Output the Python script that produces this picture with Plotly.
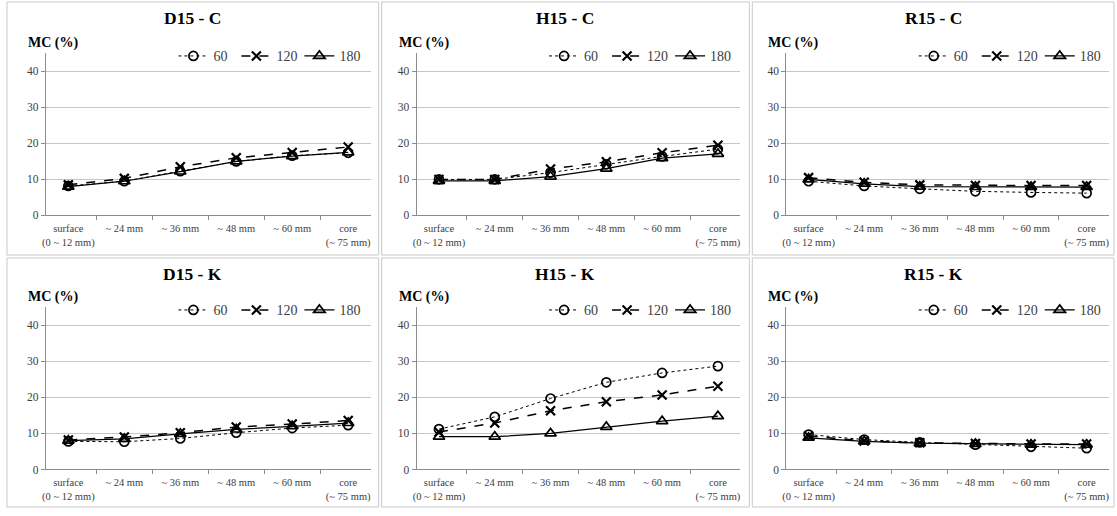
import plotly.graph_objects as go

# ---------------- data ----------------
categories = ["surface<br>(0 ~ 12 mm)", "~ 24 mm", "~ 36 mm", "~ 48 mm", "~ 60 mm", "core<br>(~ 75 mm)"]
panel_titles = ["D15 - C", "H15 - C", "R15 - C", "D15 - K", "H15 - K", "R15 - K"]
series_names = ["60", "120", "180"]

d15c_60 = [8.2, 9.5, 12.3, 15.0, 16.6, 17.4]
d15c_120 = [8.5, 10.3, 13.5, 16.0, 17.5, 19.0]
d15c_180 = [8.0, 9.5, 12.2, 15.0, 16.5, 17.5]

h15c_60 = [10.0, 10.0, 11.9, 14.2, 16.4, 18.4]
h15c_120 = [10.0, 10.0, 12.9, 14.9, 17.4, 19.5]
h15c_180 = [9.6, 9.6, 10.8, 13.0, 15.9, 17.1]

r15c_60 = [9.5, 8.2, 7.4, 6.7, 6.4, 6.2]
r15c_120 = [10.5, 9.2, 8.5, 8.3, 8.3, 8.3]
r15c_180 = [10.0, 8.8, 8.0, 7.9, 7.9, 7.9]

d15k_60 = [7.8, 7.7, 8.6, 10.2, 11.5, 12.3]
d15k_120 = [8.2, 9.0, 10.2, 11.8, 12.6, 13.6]
d15k_180 = [8.0, 8.5, 9.9, 11.1, 12.0, 12.9]

h15k_60 = [11.2, 14.6, 19.7, 24.2, 26.8, 28.7]
h15k_120 = [10.4, 12.9, 16.3, 18.8, 20.7, 23.1]
h15k_180 = [9.1, 9.1, 10.0, 11.8, 13.4, 14.8]

r15k_60 = [9.7, 8.3, 7.5, 6.9, 6.3, 5.9]
r15k_120 = [9.3, 7.9, 7.4, 7.2, 7.1, 7.1]
r15k_180 = [8.8, 7.8, 7.3, 7.1, 6.9, 6.9]

panels = [
    [d15c_60, d15c_120, d15c_180],
    [h15c_60, h15c_120, h15c_180],
    [r15c_60, r15c_120, r15c_180],
    [d15k_60, d15k_120, d15k_180],
    [h15k_60, h15k_120, h15k_180],
    [r15k_60, r15k_120, r15k_180],
]

# ---------------- styling ----------------
W, H = 1117, 516
FONT = "Liberation Serif"
TXT = "#404040"
col_px = [(42, 368), (414, 739), (785, 1109)]
row_px = [(54, 218), (311, 475)]
panel_box_x = [(3, 376), (379, 748), (751, 1114)]
panel_box_y = [(2, 258), (261, 513)]

styles = [
    dict(dash="dot", width=1, symbol="circle-open", size=9, lw=1.7),
    dict(dash="dash", width=1.5, symbol="x-thin-open", size=9, lw=2.2),
    dict(dash="solid", width=1.25, symbol="triangle-up-open", size=10, lw=1.7),
]

fig = go.Figure()
layout = dict(
    width=W, height=H,
    margin=dict(l=0, r=0, t=0, b=0),
    paper_bgcolor="white", plot_bgcolor="white",
    font=dict(family=FONT, color=TXT),
    showlegend=True,
)
annotations = []
shapes = []

for i, data in enumerate(panels):
    r, c = divmod(i, 3)
    ax = "" if i == 0 else str(i + 1)
    lg = "legend" if i == 0 else f"legend{i + 1}"
    x0, x1 = col_px[c]
    ytop, ybot = row_px[r]
    for j, vals in enumerate(data):
        st = styles[j]
        fig.add_trace(go.Scatter(
            x=categories, y=vals, name=series_names[j],
            mode="lines+markers",
            line=dict(color="#000000", width=st["width"], dash=st["dash"]),
            marker=dict(symbol=st["symbol"], size=st["size"], color="#000000",
                        line=dict(width=st["lw"], color="#000000")),
            xaxis="x" + ax, yaxis="y" + ax, legend=lg,
        ))
    layout["xaxis" + ax] = dict(
        domain=[x0 / W, x1 / W], anchor="y" + ax,
        type="category", categoryorder="array", categoryarray=categories,
        tickson="boundaries", ticks="outside", ticklen=4, tickcolor="#8c8c8c",
        showline=True, linecolor="#8c8c8c", linewidth=1, showgrid=False,
        tickangle=0, ticklabelstandoff=3,
        tickfont=dict(family=FONT, size=10.5, color=TXT), fixedrange=True,
    )
    layout["yaxis" + ax] = dict(
        domain=[1 - ybot / H, 1 - ytop / H], anchor="x" + ax,
        range=[0, 45], tickvals=[0, 10, 20, 30, 40],
        ticks="outside", ticklen=4, tickcolor="#8c8c8c",
        showline=True, linecolor="#8c8c8c", linewidth=1,
        showgrid=True, gridcolor="#c6c6c6", gridwidth=1, zeroline=False,
        tickfont=dict(family=FONT, size=11.5, color=TXT), fixedrange=True,
    )
    layout[lg] = dict(
        x=(x0 + 128) / W, y=1 - (ytop + 3) / H, xanchor="left", yanchor="middle",
        orientation="h", bgcolor="rgba(0,0,0,0)", itemwidth=30,
        entrywidth=18, entrywidthmode="pixels",
        font=dict(family=FONT, size=14, color=TXT),
    )
    bx0, bx1 = panel_box_x[c]
    by0, by1 = panel_box_y[r]
    shapes.append(dict(type="rect", xref="paper", yref="paper",
                       x0=bx0 / W, x1=bx1 / W, y0=1 - by1 / H, y1=1 - by0 / H,
                       line=dict(color="#c8c8c8", width=1), fillcolor="rgba(0,0,0,0)", layer="below"))
    annotations.append(dict(
        text=f"<b>{panel_titles[i]}</b>", xref="paper", yref="paper",
        x=((bx0 + bx1) / 2) / W, y=1 - (by0 + 16) / H, xanchor="center", yanchor="middle",
        showarrow=False, font=dict(family=FONT, size=17.5, color="#000000"),
    ))
    annotations.append(dict(
        text="<b>MC (%)</b>", xref="paper", yref="paper",
        x=(x0 - 20) / W, y=1 - (ytop - 11) / H, xanchor="left", yanchor="middle",
        showarrow=False, font=dict(family=FONT, size=14, color="#000000"),
    ))

layout["annotations"] = annotations
layout["shapes"] = shapes
fig.update_layout(**layout)
fig.write_html("out.html",
               config={"displayModeBar": False, "staticPlot": True},
               post_script="document.body.style.margin='0';document.body.style.overflow='hidden';")
